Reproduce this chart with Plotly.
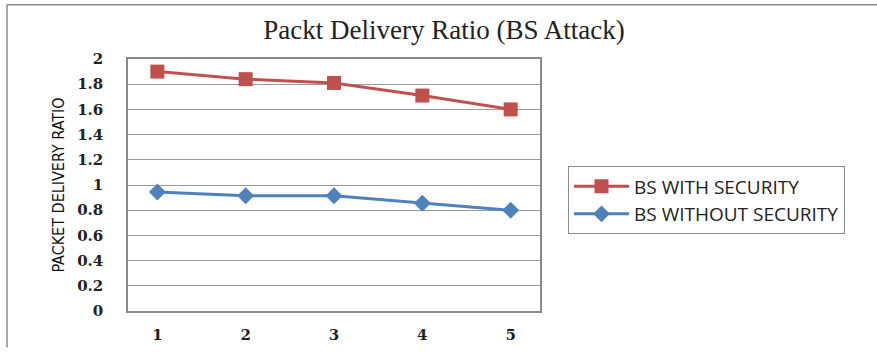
import plotly.graph_objects as go

# Simulation runs and packet delivery ratio per scenario
runs = ["1", "2", "3", "4", "5"]
with_security = [1.90, 1.84, 1.81, 1.71, 1.60]
without_security = [0.945, 0.915, 0.915, 0.855, 0.80]
y_ticks = [0, 0.2, 0.4, 0.6, 0.8, 1, 1.2, 1.4, 1.6, 1.8, 2]
y_tick_text = ["0", "0.2", "0.4", "0.6", "0.8", "1", "1.2", "1.4", "1.6", "1.8", "2"]

W, H = 877, 356
L, R, T, B = 128, 337, 59, 41

fig = go.Figure()
fig.add_trace(go.Scatter(
    x=runs, y=with_security, name="BS WITH SECURITY", mode="lines+markers",
    line=dict(color="#C0504D", width=3),
    marker=dict(symbol="square", size=14, color="#C0504D"),
))
fig.add_trace(go.Scatter(
    x=runs, y=without_security, name="BS WITHOUT SECURITY", mode="lines+markers",
    line=dict(color="#4F81BD", width=3),
    marker=dict(symbol="diamond", size=13, color="#4F81BD"),
))

def px_x(p):
    return (p - L) / (W - L - R)

def px_y(p):
    return 1 - (p - T) / (H - T - B)

# outer chart frame (top and left edges)
fig.add_shape(type="line", xref="paper", yref="paper",
              x0=px_x(7), x1=px_x(W + 5), y0=px_y(4), y1=px_y(4),
              line=dict(color="#8a8a8a", width=1.5))
fig.add_shape(type="line", xref="paper", yref="paper",
              x0=px_x(7), x1=px_x(7), y0=px_y(4), y1=px_y(352),
              line=dict(color="#8a8a8a", width=1.5))

tick_font = dict(family="DejaVu Serif", size=15, color="#222", weight="bold")

fig.update_layout(
    width=W, height=H,
    margin=dict(l=L, r=R, t=T, b=B),
    paper_bgcolor="white", plot_bgcolor="white",
    title=dict(text="Packt Delivery Ratio (BS Attack)",
               font=dict(family="Liberation Serif", size=27, color="#222"),
               x=px_x(444), xanchor="center", y=1 - 30 / H, yanchor="middle",
               xref="paper", yref="container"),
    showlegend=True,
    legend=dict(
        x=px_x(568), y=px_y(168), xanchor="left", yanchor="top",
        bordercolor="#8a8a8a", borderwidth=1, bgcolor="white",
        font=dict(family="Open Sans", size=19, color="#222"),
        tracegroupgap=0, itemwidth=55,
    ),
    xaxis=dict(
        type="category", showgrid=False, showline=True, linecolor="#8a8a8a", linewidth=1.5,
        mirror=True, ticks="", tickfont=tick_font,
        ticklabelstandoff=9,
    ),
    yaxis=dict(
        range=[0, 2], tickvals=y_ticks, ticktext=y_tick_text,
        showgrid=True, gridcolor="#9a9a9a", gridwidth=1,
        showline=True, linecolor="#8a8a8a", linewidth=1.5, mirror=True,
        ticks="", zeroline=False,
        tickfont=tick_font,
        ticklabelstandoff=20,
        title=dict(text="PACKET DELIVERY RATIO",
                   font=dict(family="DejaVu Sans Condensed, Liberation Sans Narrow, Liberation Sans",
                             size=16, color="#111", weight="normal"),
                   standoff=9),
    ),
)

fig.write_html("out.html")
